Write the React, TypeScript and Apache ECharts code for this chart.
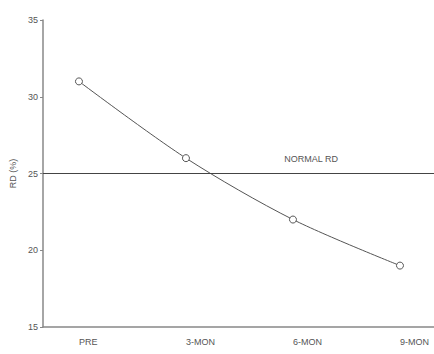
import React, { useEffect, useRef } from "react";
import * as echarts from "echarts";

// Follow-up time points and measured RD (%) at each
const categories = ["PRE", "3-MON", "6-MON", "9-MON"];
const rdValues = [31, 26, 22, 19];
const normalRD = 25;
const yTicks = [15, 20, 25, 30, 35];

const textColor = "#555";
const fontFamily = "Liberation Sans, Arial, sans-serif";

export default function App() {
  const ref = useRef<HTMLDivElement>(null);

  useEffect(() => {
    if (!ref.current) return;
    const chart = echarts.init(ref.current, undefined, { renderer: "svg" });
    const points = categories.map((_, i) => [i, rdValues[i]]);

    chart.setOption({
      animation: false,
      backgroundColor: "#fff",
      grid: { left: 43, right: 0, top: 20, bottom: 27 },
      xAxis: {
        type: "value",
        min: -0.336,
        max: 3.318,
        axisLine: { show: true, onZero: false, lineStyle: { color: "#888", width: 1.5 } },
        axisTick: { show: false },
        splitLine: { show: false },
        axisLabel: {
          customValues: categories.map((_, i) => i),
          formatter: (v: number) => categories[Math.round(v)] ?? "",
          align: "left",
          margin: 10,
          color: textColor,
          fontSize: 9,
          fontFamily,
        },
      },
      yAxis: {
        type: "value",
        min: yTicks[0],
        max: yTicks[yTicks.length - 1],
        interval: 5,
        name: "RD (%)",
        nameLocation: "middle",
        nameRotate: 90,
        nameGap: 24,
        nameTextStyle: { color: textColor, fontSize: 9, fontFamily },
        axisLine: { show: true, onZero: false, lineStyle: { color: "#888", width: 1.5 } },
        axisTick: { show: true, length: 3, lineStyle: { color: "#888" } },
        splitLine: { show: false },
        axisLabel: { color: textColor, fontSize: 9, fontFamily, margin: 5 },
      },
      series: [
        {
          type: "line",
          data: points,
          smooth: 0.3,
          symbol: "circle",
          symbolSize: 7,
          lineStyle: { color: "#555", width: 1 },
          itemStyle: { color: "#fff", borderColor: "#555", borderWidth: 1 },
          markLine: {
            silent: true,
            symbol: "none",
            lineStyle: { color: "#444", width: 1, type: "solid" },
            label: {
              show: true,
              position: "insideEndTop",
              formatter: "NORMAL RD",
              color: textColor,
              fontSize: 9,
              fontFamily,
              padding: [0, 91, 5, 0],
            },
            data: [{ yAxis: normalRD }],
          },
        },
      ],
    });

    return () => chart.dispose();
  }, []);

  return (
    <div
      ref={ref}
      style={{ position: "fixed", left: 0, top: 0, width: 434, height: 354 }}
    />
  );
}
